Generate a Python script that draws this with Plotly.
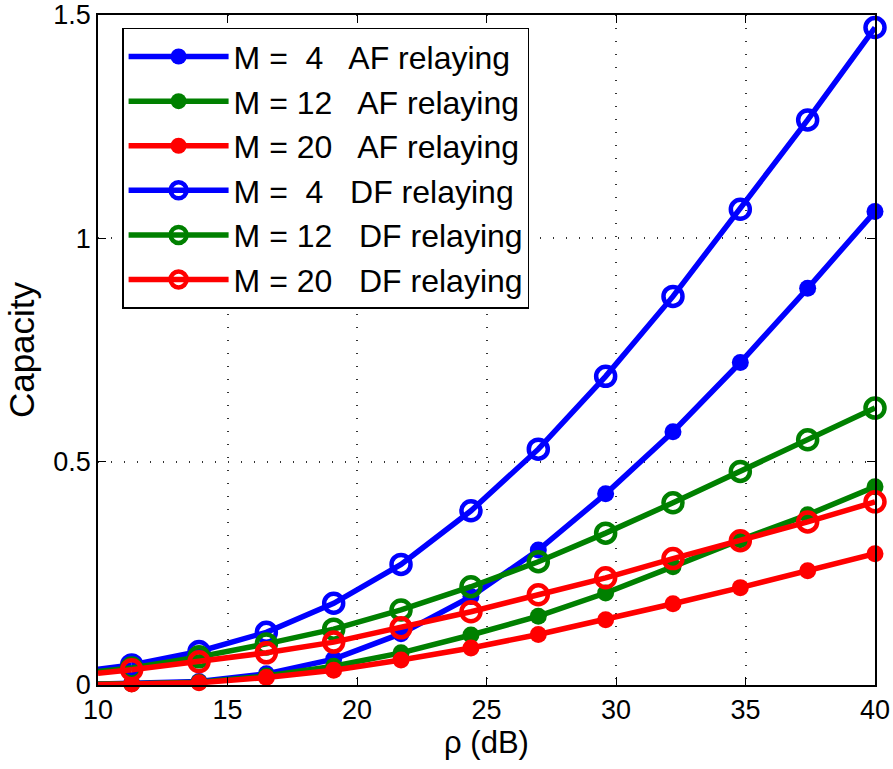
import plotly.graph_objects as go

# ---- data ----
rho_start = 10.0
rho_db = [11.3, 13.9, 16.5, 19.1, 21.7, 24.4, 27.0, 29.6, 32.2, 34.8, 37.4, 40.0]

af_m4 = [0.004, 0.008, 0.025, 0.058, 0.115, 0.198, 0.302, 0.428, 0.567, 0.722, 0.888, 1.060]
af_m12 = [0.003, 0.006, 0.020, 0.042, 0.072, 0.112, 0.154, 0.206, 0.265, 0.325, 0.381, 0.444]
af_m20 = [0.002, 0.005, 0.017, 0.033, 0.056, 0.083, 0.113, 0.146, 0.182, 0.218, 0.256, 0.294]
df_m4 = [0.045, 0.075, 0.118, 0.183, 0.270, 0.390, 0.528, 0.691, 0.870, 1.065, 1.265, 1.472]
df_m12 = [0.038, 0.063, 0.092, 0.125, 0.168, 0.220, 0.276, 0.340, 0.408, 0.478, 0.549, 0.620]
df_m20 = [0.034, 0.052, 0.072, 0.096, 0.128, 0.164, 0.202, 0.240, 0.283, 0.323, 0.365, 0.410]

# curve values at rho = 10 dB (line start, no marker)
start_vals = {
    "af_m4": 0.002, "af_m12": 0.002, "af_m20": 0.001,
    "df_m4": 0.035, "df_m12": 0.030, "df_m20": 0.026,
}

labels = [
    "M =  4   AF relaying",
    "M = 12   AF relaying",
    "M = 20   AF relaying",
    "M =  4   DF relaying",
    "M = 12   DF relaying",
    "M = 20   DF relaying",
]
x_ticks = [10, 15, 20, 25, 30, 35, 40]
y_ticks = [0, 0.5, 1, 1.5]
y_tick_text = ["0", "0.5", "1", "1.5"]

series = [
    ("af_m4", af_m4, "#0000FF", "circle"),
    ("af_m12", af_m12, "#008000", "circle"),
    ("af_m20", af_m20, "#FF0000", "circle"),
    ("df_m4", df_m4, "#0000FF", "circle-open"),
    ("df_m12", df_m12, "#008000", "circle-open"),
    ("df_m20", df_m20, "#FF0000", "circle-open"),
]

FONT = "Liberation Sans, Arial, sans-serif"
fig = go.Figure()

for (key, vals, color, sym), lab in zip(series, labels):
    # start segment from rho = 10 dB to first marker
    fig.add_trace(go.Scatter(
        x=[rho_start, rho_db[0]], y=[start_vals[key], vals[0]],
        mode="lines", line=dict(color=color, width=5.5),
        showlegend=False, hoverinfo="skip", cliponaxis=False,
    ))
    open_ = sym.endswith("open")
    fig.add_trace(go.Scatter(
        x=rho_db, y=vals, name=lab, mode="lines+markers",
        line=dict(color=color, width=5.5),
        marker=dict(symbol=sym, color=color,
                    size=19 if open_ else 17,
                    line=dict(color=color, width=4.5 if open_ else 0)),
        cliponaxis=False,
    ))

axis_common = dict(
    showline=True, linecolor="black", linewidth=1.5, mirror="ticks",
    ticks="inside", ticklen=8, tickwidth=1, tickcolor="black",
    showgrid=True, gridcolor="#333333", gridwidth=1.5, griddash="1px,12px",
    zeroline=False, automargin=False,
    tickfont=dict(family=FONT, size=27, color="black"),
)

fig.update_xaxes(
    range=[10, 40], tickvals=x_ticks,
    title=dict(text="ρ (dB)", font=dict(family=FONT, size=31, color="black"), standoff=6),
    **axis_common,
)
fig.update_yaxes(
    range=[0, 1.5], tickvals=y_ticks, ticktext=y_tick_text,
    title=dict(text="Capacity", font=dict(family=FONT, size=35, color="black"), standoff=8),
    **axis_common,
)

fig.update_layout(
    width=893, height=769,
    margin=dict(l=98, r=18, t=15, b=84),
    paper_bgcolor="white", plot_bgcolor="white",
    font=dict(family=FONT, color="black"),
    showlegend=True,
    legend=dict(
        x=0.031, y=0.981, xanchor="left", yanchor="top",
        bgcolor="white", bordercolor="black", borderwidth=1.5,
        font=dict(family=FONT, size=32, color="black"),
        tracegroupgap=0, itemwidth=100,
    ),
)

fig.write_html("out.html")
